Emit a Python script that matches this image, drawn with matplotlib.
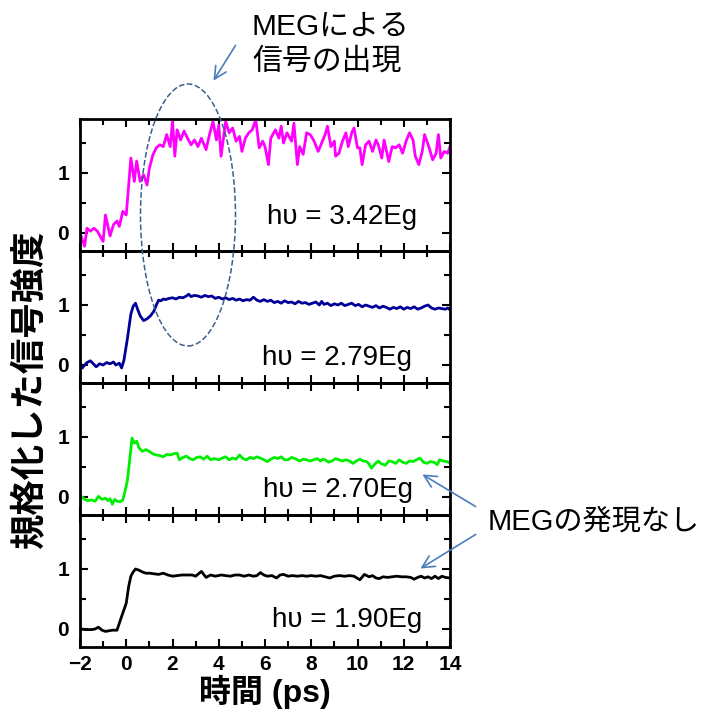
import matplotlib
matplotlib.use("Agg")
import matplotlib.pyplot as plt
from matplotlib.patches import Ellipse
from matplotlib.ticker import MultipleLocator

plt.rcParams['font.family'] = ['Liberation Sans', 'Noto Sans CJK JP', 'DejaVu Sans']

# --- data ---
t_342 = [-2.0, -1.8, -1.7, -1.55, -1.4, -1.25, -1.0, -0.9, -0.7, -0.55, -0.4, -0.3, -0.15, 0.0,
         0.2, 0.35, 0.45, 0.6, 0.75, 0.9, 1.0, 1.15, 1.3, 1.45, 1.6, 1.75, 1.9, 2.0, 2.1, 2.2,
         2.35, 2.5, 2.65, 2.8, 2.95, 3.1, 3.25, 3.45, 3.6, 3.75, 3.9, 4.0, 4.1, 4.3, 4.45, 4.6,
         4.75, 4.9, 5.0, 5.15, 5.3, 5.45, 5.6, 5.75, 5.9, 6.0, 6.15, 6.25, 6.45, 6.6, 6.7, 6.8,
         6.95, 7.15, 7.25, 7.4, 7.5, 7.65, 7.8, 7.95, 8.1, 8.3, 8.45, 8.6, 8.7, 8.85, 9.0, 9.05,
         9.2, 9.35, 9.5, 9.6, 9.75, 9.85, 10.0, 10.1, 10.2, 10.35, 10.5, 10.65, 10.8, 10.9, 11.05,
         11.15, 11.35, 11.5, 11.65, 11.8, 11.95, 12.1, 12.25, 12.4, 12.5, 12.65, 12.8, 12.9, 13.1,
         13.25, 13.4, 13.5, 13.6, 13.75, 13.9, 14.0]
y_342 = [0.0, -0.22, 0.08, 0.03, 0.08, 0.03, -0.14, 0.3, -0.05, 0.14, 0.2, 0.11, 0.36, 0.3,
         1.25, 0.86, 1.2, 0.86, 0.97, 0.8, 1.08, 1.3, 1.42, 1.47, 1.44, 1.64, 1.44, 1.86, 1.28, 1.72,
         1.55, 1.7, 1.58, 1.47, 1.55, 1.44, 1.58, 1.39, 1.64, 1.86, 1.55, 1.8, 1.28, 1.86, 1.67, 1.75,
         1.53, 1.61, 1.36, 1.58, 1.67, 1.72, 1.89, 1.42, 1.53, 1.44, 1.14, 1.58, 1.72, 1.58, 1.78, 1.5,
         1.67, 1.53, 1.83, 1.14, 1.44, 1.31, 1.67, 1.64, 1.55, 1.36, 1.5, 1.64, 1.78, 1.44, 1.53, 1.28,
         1.33, 1.53, 1.67, 1.44, 1.67, 1.75, 1.42, 1.42, 1.14, 1.47, 1.53, 1.36, 1.55, 1.47, 1.25,
         1.55, 1.19, 1.44, 1.42, 1.47, 1.33, 1.53, 1.67, 1.55, 1.28, 1.14, 1.36, 1.64, 1.42,
         1.22, 1.33, 1.64, 1.25, 1.36, 1.33, 1.44]

t_279 = [-2.0, -1.9, -1.8, -1.7, -1.55, -1.4, -1.3, -1.15, -1.0, -0.85, -0.7, -0.55, -0.45, -0.3,
         -0.2, -0.1, 0.05, 0.2, 0.3, 0.4, 0.5, 0.6, 0.75, 0.9, 1.05, 1.2, 1.3, 1.4, 1.5, 1.6, 1.7,
         1.85, 2.0, 2.15, 2.3, 2.45, 2.6, 2.7, 2.8, 2.95, 3.1, 3.25, 3.4, 3.55, 3.7, 3.85, 4.0, 4.15,
         4.3, 4.45, 4.6, 4.75, 4.9, 5.05, 5.2, 5.35, 5.5, 5.65, 5.8, 5.95, 6.1, 6.25, 6.4, 6.55,
         6.7, 6.85, 7.0, 7.15, 7.3, 7.45, 7.6, 7.75, 7.9, 8.05, 8.2, 8.35, 8.45, 8.55, 8.7, 8.85,
         9.0, 9.15, 9.3, 9.45, 9.6, 9.75, 9.9, 10.05, 10.2, 10.35, 10.5, 10.65, 10.8, 10.95, 11.1,
         11.25, 11.4, 11.55, 11.7, 11.85, 12.0, 12.15, 12.3, 12.45, 12.6, 12.75, 12.9, 13.05, 13.2,
         13.35, 13.5, 13.65, 13.8, 13.9, 14.0]
y_279 = [0.02, -0.05, 0.0, 0.04, 0.07, 0.01, -0.03, 0.02, 0.0, 0.04, 0.02, 0.05, 0.0, 0.03,
         -0.05, 0.08, 0.44, 0.85, 0.98, 1.03, 0.92, 0.82, 0.74, 0.77, 0.82, 0.9, 1.0, 1.08, 1.07, 1.1, 1.09,
         1.11, 1.12, 1.1, 1.13, 1.12, 1.15, 1.18, 1.14, 1.16, 1.15, 1.13, 1.16, 1.14, 1.15, 1.11, 1.13, 1.1,
         1.12, 1.09, 1.11, 1.08, 1.1, 1.07, 1.09, 1.08, 1.13, 1.08, 1.06, 1.09, 1.06, 1.08, 1.04, 1.06,
         1.03, 1.07, 1.04, 1.05, 1.02, 1.06, 1.03, 1.04, 1.01, 1.03, 1.05, 1.0, 1.06, 1.01, 1.03, 0.99,
         1.02, 1.0, 1.03, 0.99, 1.01, 1.03, 0.99, 1.01, 0.97, 1.0, 0.98, 0.96, 0.99, 0.95, 0.98,
         0.96, 0.93, 0.96, 0.94, 0.97, 0.93, 0.96, 0.94, 0.97, 0.93, 0.95, 0.98, 1.0, 0.95,
         0.93, 0.95, 0.94, 0.93, 0.95, 0.92]

t_270 = [-2.0, -1.9, -1.8, -1.65, -1.5, -1.35, -1.2, -1.05, -0.9, -0.8, -0.7, -0.6, -0.5, -0.4,
         -0.25, -0.15, -0.05, 0.05, 0.15, 0.25, 0.35, 0.45, 0.55, 0.7, 0.85, 1.0, 1.15, 1.3, 1.45,
         1.6, 1.75, 1.9, 2.05, 2.2, 2.3, 2.45, 2.6, 2.75, 2.9, 3.05, 3.2, 3.35, 3.5, 3.65, 3.8, 4.0,
         4.15, 4.3, 4.45, 4.6, 4.75, 4.9, 5.05, 5.2, 5.35, 5.5, 5.65, 5.85, 6.0, 6.1, 6.25, 6.4,
         6.55, 6.7, 6.85, 7.0, 7.15, 7.3, 7.5, 7.65, 7.8, 7.95, 8.1, 8.25, 8.4, 8.5, 8.6, 8.75,
         8.9, 9.05, 9.2, 9.35, 9.5, 9.65, 9.8, 9.95, 10.1, 10.25, 10.4, 10.5, 10.6, 10.75, 10.9,
         11.0, 11.2, 11.35, 11.5, 11.65, 11.8, 11.95, 12.1, 12.25, 12.4, 12.55, 12.7, 12.85, 13.0,
         13.15, 13.3, 13.45, 13.55, 13.7, 13.85, 14.0]
y_270 = [-0.06, 0.0, -0.04, -0.06, -0.05, -0.07, 0.01, -0.04, -0.02, -0.06, -0.03, -0.12, -0.04, -0.07,
         -0.08, -0.05, 0.1, 0.28, 0.62, 0.98, 0.9, 0.93, 0.82, 0.76, 0.79, 0.76, 0.72, 0.7, 0.69,
         0.67, 0.71, 0.7, 0.72, 0.73, 0.62, 0.66, 0.68, 0.64, 0.62, 0.66, 0.67, 0.63, 0.68, 0.62, 0.64, 0.62,
         0.65, 0.67, 0.62, 0.65, 0.63, 0.7, 0.64, 0.62, 0.66, 0.64, 0.67, 0.64, 0.61, 0.59, 0.63, 0.66,
         0.64, 0.67, 0.62, 0.62, 0.66, 0.64, 0.6, 0.63, 0.62, 0.6, 0.62, 0.64, 0.6, 0.63, 0.62, 0.58,
         0.6, 0.64, 0.62, 0.6, 0.62, 0.6, 0.56, 0.6, 0.63, 0.6, 0.59, 0.55, 0.48, 0.55, 0.6,
         0.56, 0.53, 0.6, 0.59, 0.56, 0.62, 0.58, 0.56, 0.6, 0.59, 0.62, 0.65, 0.58, 0.56,
         0.59, 0.58, 0.54, 0.62, 0.6, 0.59, 0.57]

t_190 = [-2.0, -1.75, -1.5, -1.35, -1.2, -1.05, -0.9, -0.75, -0.6, -0.4, -0.2, 0.0, 0.1, 0.2, 0.3,
         0.4, 0.55, 0.7, 0.85, 1.0, 1.2, 1.4, 1.6, 1.8, 2.0, 2.2, 2.4, 2.6, 2.85, 3.0, 3.25, 3.45,
         3.65, 3.85, 4.1, 4.3, 4.5, 4.7, 4.9, 5.1, 5.3, 5.5, 5.65, 5.8, 5.95, 6.1, 6.3, 6.5, 6.65,
         6.8, 7.0, 7.2, 7.4, 7.6, 7.8, 8.0, 8.2, 8.4, 8.6, 8.8, 9.0, 9.2, 9.45, 9.65, 9.85, 10.1,
         10.3, 10.5, 10.65, 10.8, 10.95, 11.1, 11.3, 11.5, 11.7, 11.9, 12.1, 12.3, 12.45, 12.6,
         12.75, 12.9, 13.05, 13.2, 13.35, 13.5, 13.65, 13.8, 14.0]
y_190 = [0.0, -0.01, -0.01, 0.0, 0.03, -0.02, -0.04, -0.03, -0.02, -0.02, 0.21, 0.43, 0.7, 0.88, 0.95,
         1.0, 0.98, 0.95, 0.93, 0.93, 0.92, 0.91, 0.93, 0.9, 0.88, 0.89, 0.9, 0.9, 0.9, 0.88, 0.96, 0.86,
         0.9, 0.88, 0.9, 0.89, 0.88, 0.9, 0.9, 0.88, 0.9, 0.88, 0.89, 0.94, 0.9, 0.88, 0.89, 0.85, 0.9,
         0.91, 0.88, 0.89, 0.88, 0.89, 0.88, 0.89, 0.88, 0.89, 0.87, 0.85, 0.88, 0.89, 0.88, 0.89, 0.88, 0.82,
         0.91, 0.87, 0.89, 0.85, 0.84, 0.87, 0.86, 0.87, 0.88, 0.87, 0.87, 0.86, 0.83, 0.86,
         0.88, 0.85, 0.87, 0.84, 0.88, 0.84, 0.88, 0.86, 0.85]

series = [(t_342, y_342, '#ff00ff', 'hυ = 3.42Eg', 6.1, 0.27),
          (t_279, y_279, '#000099', 'hυ = 2.79Eg', 5.85, 0.12),
          (t_270, y_270, '#00ee00', 'hυ = 2.70Eg', 5.9, 0.12),
          (t_190, y_190, '#000000', 'hυ = 1.90Eg', 6.3, 0.15)]

W, H = 704, 711
fig = plt.figure(figsize=(W / 100, H / 100), dpi=100)

left, right = 80 / W, 450 / W
bottom = 1 - 647 / H
ph = (647 - 119) / 4 / H

axes = []
for i, (t, y, col, lab, lx, ly) in enumerate(series):
    ax = fig.add_axes([left, bottom + (3 - i) * ph, right - left, ph])
    ax.patch.set_visible(False)
    ax.plot(t, y, color=col, lw=2)
    ax.set_xlim(-2, 14)
    ax.set_ylim(-0.3, 1.9)
    ax.xaxis.set_major_locator(MultipleLocator(2))
    ax.xaxis.set_minor_locator(MultipleLocator(1))
    ax.set_yticks([0, 1])
    ax.yaxis.set_minor_locator(MultipleLocator(0.5))
    ax.tick_params(which='both', direction='in', top=True, right=True, width=1.5)
    ax.tick_params(which='major', length=6)
    ax.tick_params(which='minor', length=4)
    ax.tick_params(axis='y', labelsize=15, pad=8)
    ax.tick_params(axis='x', labelsize=15, pad=6)
    for lbl in ax.get_yticklabels() + ax.get_xticklabels():
        lbl.set_fontweight('bold')
    for s in ax.spines.values():
        s.set_linewidth(2)
    if i < 3:
        ax.tick_params(labelbottom=False)
    ax.text(lx, ly, lab, fontsize=20, va='center', ha='left')
    axes.append(ax)

fig.text(265 / W, 1 - 692 / H, '時間 (ps)', fontsize=23, fontweight='bold',
         ha='center', va='center')
fig.text(30 / W, 1 - 390 / H, '規格化した信号強度', fontsize=25.5, fontweight='bold',
         rotation=90, ha='center', va='center')

# dashed ellipse around the MEG rise
fig.add_artist(Ellipse((188 / W, 1 - 215 / H), 95 / W, 262 / H, transform=fig.transFigure,
                       fill=False, ls='--', lw=1.1, color='#3c5f8c'))

fig.text(252 / W, 1 - 27 / H, 'MEGによる', fontsize=21.5, ha='left', va='center')
fig.text(252 / W, 1 - 62 / H, '信号の出現', fontsize=21.5, ha='left', va='center')
fig.text(488 / W, 1 - 522 / H, 'MEGの発現なし', fontsize=21, ha='left', va='center')

arrow = dict(arrowstyle='->', color='#4a7ebb', lw=1.2, mutation_scale=22)
for tip, tail in [((212, 83), (237, 43)), ((420, 473), (478, 508)), ((418, 570), (478, 533))]:
    axes[3].annotate('', xy=(tip[0] / W, 1 - tip[1] / H), xytext=(tail[0] / W, 1 - tail[1] / H),
                     xycoords='figure fraction', textcoords='figure fraction',
                     arrowprops=arrow, annotation_clip=False)

fig.savefig('out.png', dpi=100)
